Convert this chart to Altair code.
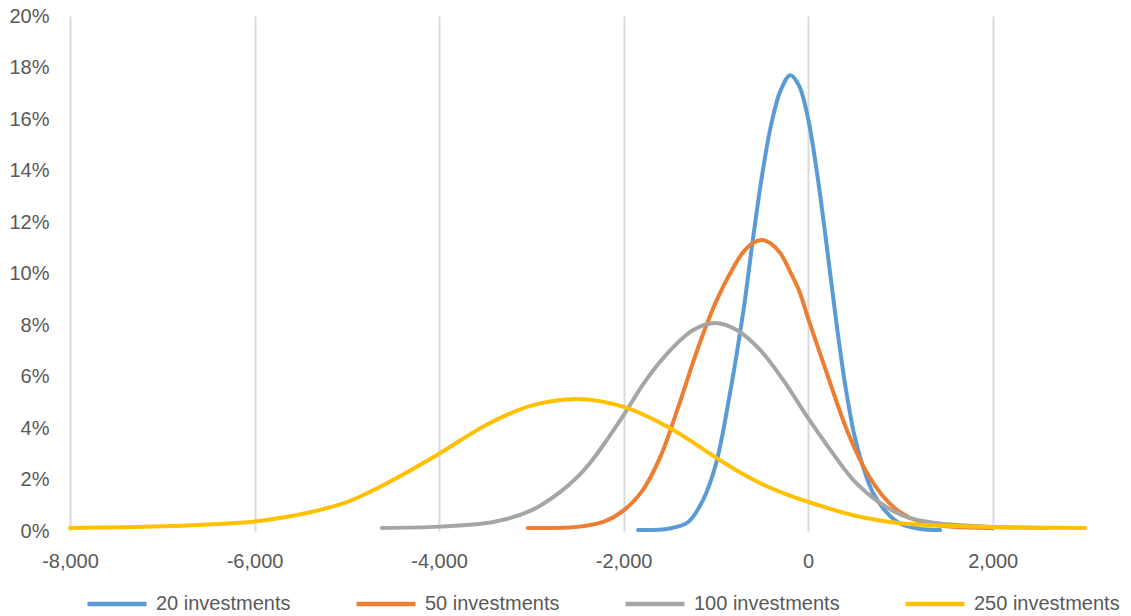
import altair as alt
import pandas as pd

# Series names and colours
series_names = ["20 investments", "50 investments", "100 investments", "250 investments"]
series_colors = ["#5b9bd5", "#ed7d31", "#a5a5a5", "#ffc000"]

# Outcome (x) and probability in percent (y) for each portfolio size
x_20 = [-1844, -1500, -1300, -1140, -1000, -850, -700, -600, -500, -400, -300, -195,
        -100, 0, 100, 200, 300, 400, 500, 600, 700, 850, 1000, 1200, 1430]
y_20 = [0.04, 0.10, 0.35, 1.20, 2.60, 5.30, 8.60, 11.30, 13.80, 15.80, 17.10, 17.70,
        17.30, 16.00, 13.80, 11.10, 8.25, 5.70, 3.73, 2.43, 1.50, 0.72, 0.28, 0.09, 0.04]

x_50 = [-3037, -2500, -2200, -2000, -1800, -1600, -1400, -1200, -1000, -800, -700, -600,
        -500, -400, -300, -200, -100, 0, 200, 400, 600, 800, 1000, 1200, 1500, 2000]
y_50 = [0.12, 0.16, 0.38, 0.80, 1.55, 2.90, 4.90, 7.05, 8.90, 10.30, 10.85, 11.18,
        11.30, 11.15, 10.78, 10.10, 9.35, 8.25, 6.15, 4.10, 2.50, 1.40, 0.72, 0.37, 0.18, 0.12]

x_100 = [-4620, -4000, -3400, -3000, -2700, -2500, -2330, -2170, -2000, -1750, -1460,
         -1250, -1010, -770, -520, -270, 0, 240, 490, 780, 1070, 1400, 2000, 2590]
y_100 = [0.12, 0.17, 0.36, 0.80, 1.48, 2.10, 2.80, 3.60, 4.50, 5.90, 7.15,
         7.80, 8.08, 7.80, 7.03, 5.86, 4.38, 3.15, 1.98, 1.09, 0.54, 0.30, 0.16, 0.12]

x_250 = [-8000, -7000, -6000, -5500, -5250, -5000, -4750, -4500, -4000, -3500, -3000,
         -2500, -2000, -1500, -1000, -750, -500, -250, 0, 500, 1000, 1500, 2000, 2500, 3000]
y_250 = [0.12, 0.18, 0.37, 0.65, 0.86, 1.12, 1.52, 1.98, 3.00, 4.10, 4.87,
         5.13, 4.82, 4.00, 2.85, 2.30, 1.82, 1.44, 1.13, 0.60, 0.30, 0.20, 0.16, 0.13, 0.12]

x_ticks = [-8000, -6000, -4000, -2000, 0, 2000]
y_ticks = [0, 0.02, 0.04, 0.06, 0.08, 0.10, 0.12, 0.14, 0.16, 0.18, 0.20]

frames = []
for name, xs, ys in zip(series_names, [x_20, x_50, x_100, x_250], [y_20, y_50, y_100, y_250]):
    frames.append(pd.DataFrame({"series": name, "x": xs, "pct": ys}))
df = pd.concat(frames, ignore_index=True)

FONT = "Liberation Sans"
LABEL_COLOR = "#595959"

color = alt.Color(
    "series:N",
    scale=alt.Scale(domain=series_names, range=series_colors),
    legend=alt.Legend(
        title=None,
        orient="none",
        legendX=15,
        legendY=556,
        direction="horizontal",
        symbolType="stroke",
        symbolSize=3481,
        symbolStrokeWidth=4.5,
        labelFontSize=20,
        labelFont=FONT,
        labelColor=LABEL_COLOR,
        labelOffset=7,
        columnPadding=56,
        labelLimit=300,
        padding=0,
    ),
)

x_enc = alt.X(
    "x:Q",
    scale=alt.Scale(domain=[-8000, 3000], nice=False, zero=False),
    axis=alt.Axis(
        title=None, values=x_ticks,
        labelExpr="replace(format(datum.value, ',.0f'), '\u2212', '-')",
        grid=True, gridColor="#d9d9d9", gridWidth=2, domain=False, ticks=False,
        labelPadding=20, labelFontSize=20, labelFont=FONT, labelColor=LABEL_COLOR,
        labelFlush=False,
    ),
)
y_enc = alt.Y(
    "frac:Q",
    scale=alt.Scale(domain=[0, 0.2], nice=False),
    axis=alt.Axis(
        title=None, values=y_ticks, format=".0%", grid=False, domain=False,
        ticks=False, labelPadding=21, labelFontSize=20, labelFont=FONT,
        labelColor=LABEL_COLOR,
    ),
)

layers = []
for name in series_names:
    layers.append(
        alt.Chart(df)
        .transform_filter(alt.datum.series == name)
        .transform_calculate(frac="datum.pct / 100")
        .mark_line(interpolate="catmull-rom", strokeWidth=4, strokeCap="round")
        .encode(x=x_enc, y=y_enc, color=color)
    )

chart = (
    alt.layer(*layers)
    .properties(
        width=1015,
        height=515,
        autosize=alt.AutoSizeParams(type="none"),
        padding={"left": 70, "top": 16, "right": 46, "bottom": 85},
        background="white",
    )
    .configure_view(stroke=None)
)

chart.save("out.html", embed_options={"renderer": "svg", "actions": False})
